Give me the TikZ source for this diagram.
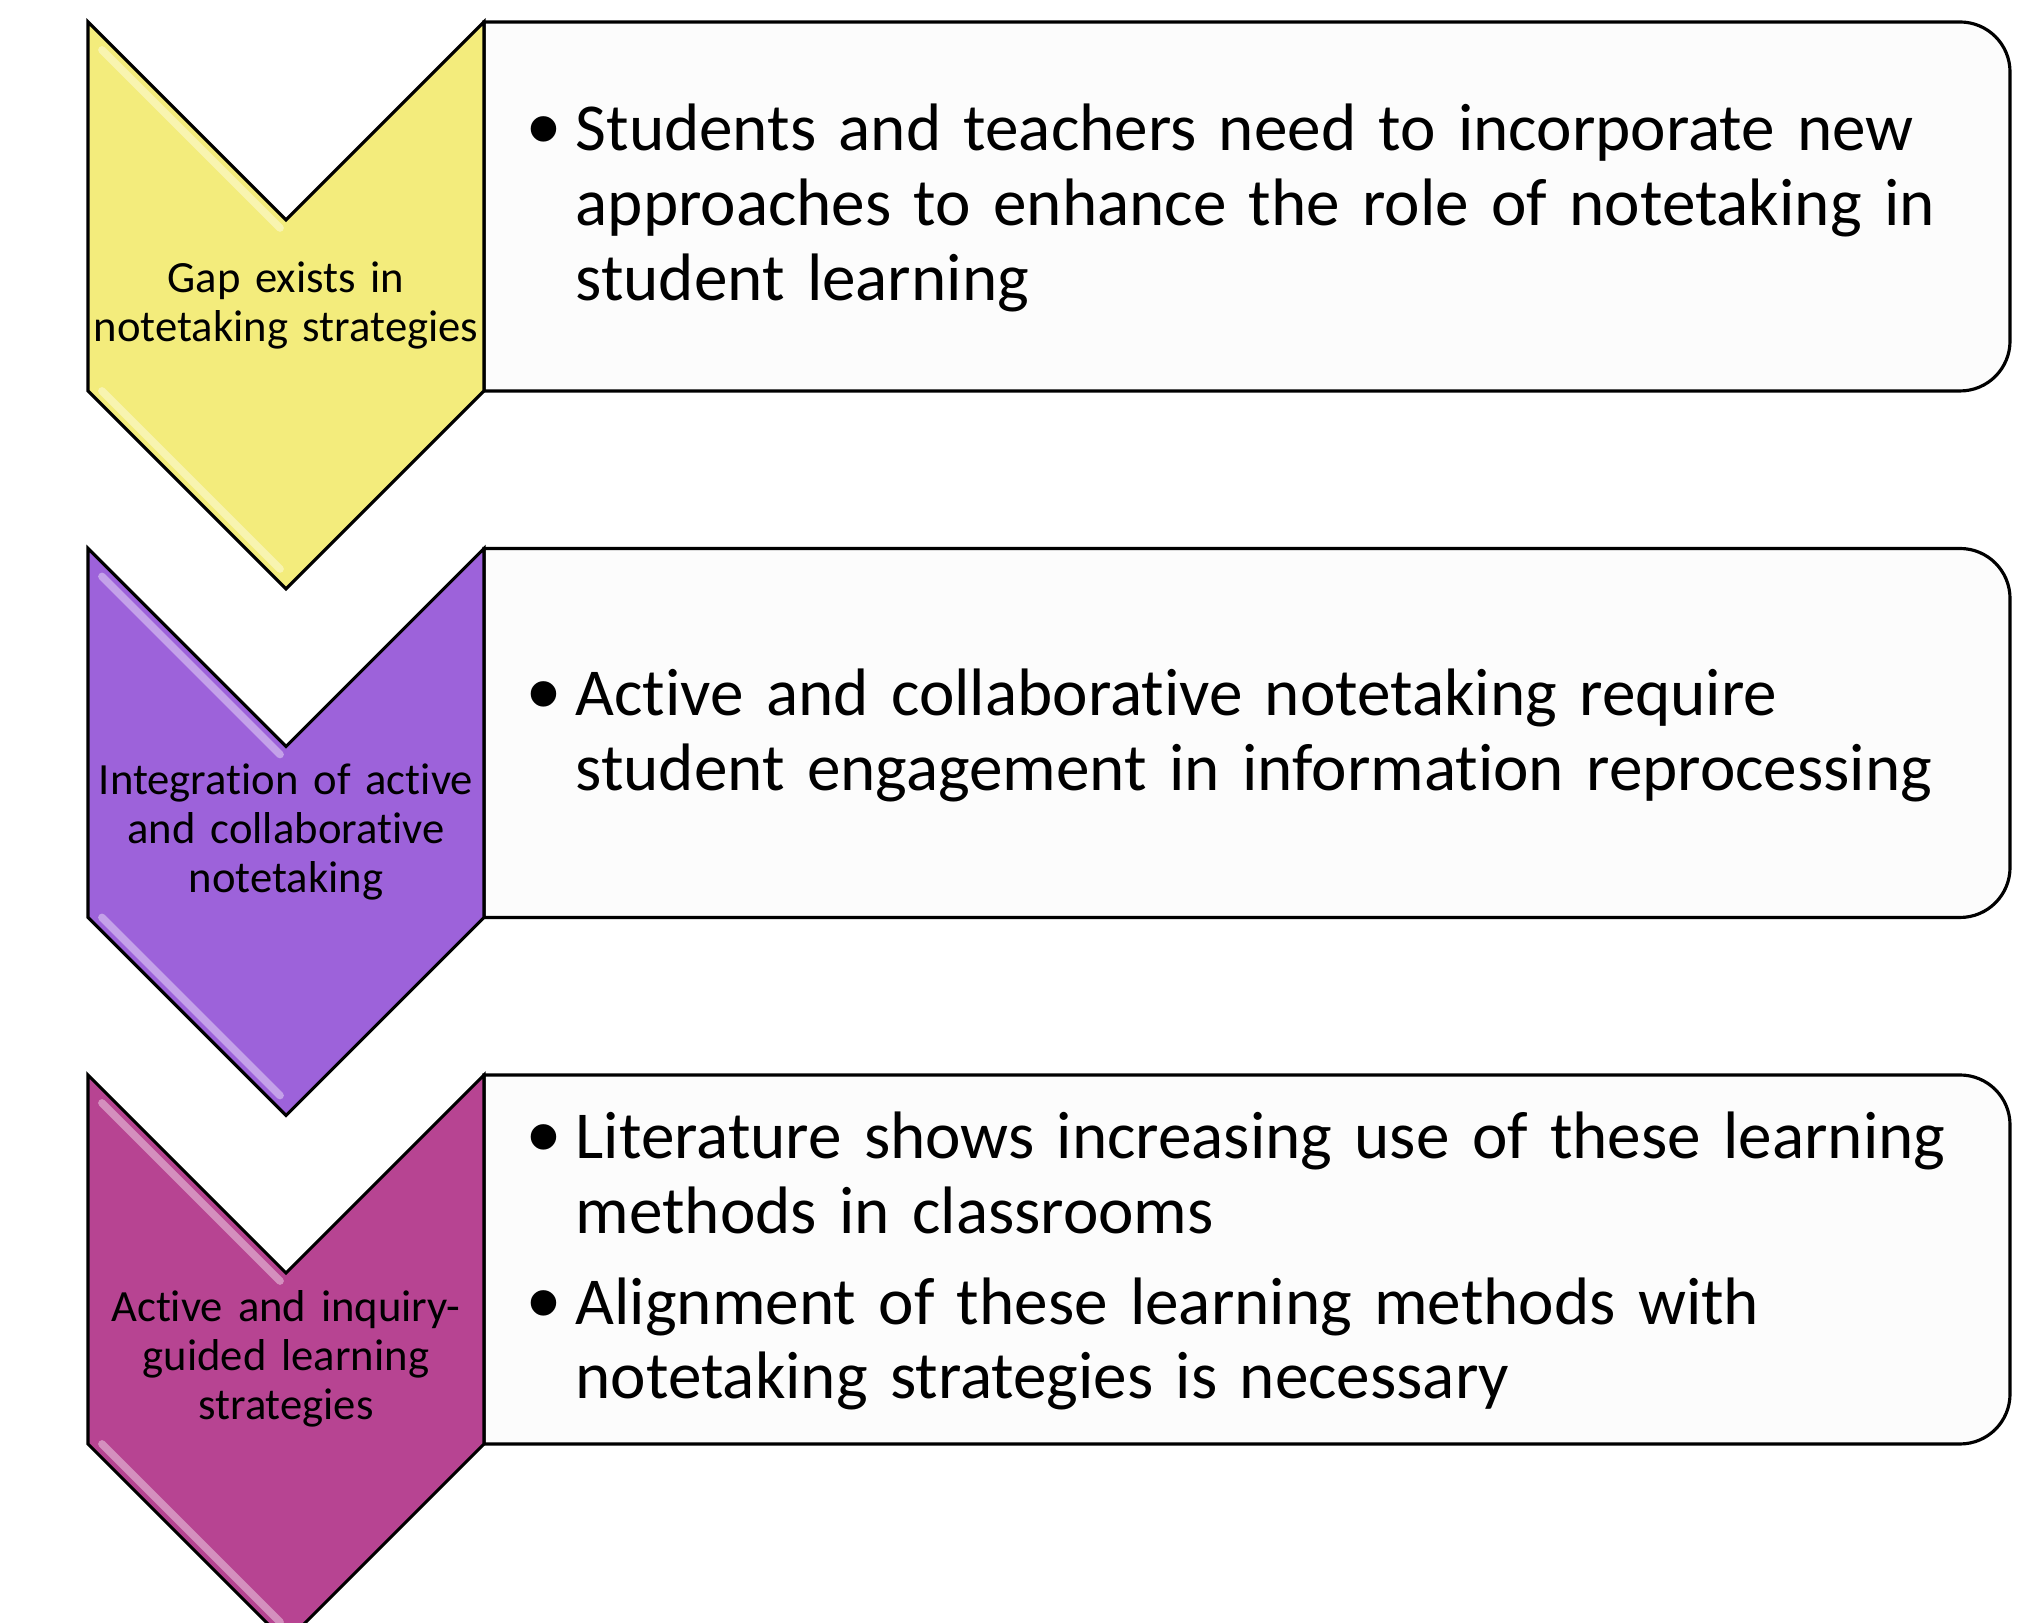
\documentclass[tikz,border=0pt]{standalone}
\usepackage{fontspec}
\setmainfont[Ligatures=NoCommon]{Carlito}
\newfontfamily\dotfont{Liberation Sans}
\usetikzlibrary{positioning}

\definecolor{gapyellow}{RGB}{243,236,124}
\definecolor{mixpurple}{RGB}{157,98,218}
\definecolor{inqmagenta}{RGB}{183,68,146}
\definecolor{panelgray}{RGB}{252,252,252}

\tikzset{
  chevron/.style={draw=black, line width=0.9pt, line join=miter},
  bevel/.style={line width=2.2pt, line cap=round},
  panel/.style={draw=black, fill=panelgray, line width=0.9pt},
  steplabel/.style={text width=3.96cm, align=center, inner sep=0pt, font=\fontsize{12.7}{13.9}\selectfont},
  notes/.style={anchor=west, text width=14.7cm, align=left, inner sep=0pt, font=\fontsize{19.1}{21.3}\selectfont},
}
\newcommand{\notept}[1]{\par\leftskip=0.44cm\noindent\llap{\makebox[0.44cm][l]{\hspace{-0.04cm}\raisebox{-0.15em}{\scalebox{1.4}{\dotfont\textbullet}}}}#1\par}

\begin{document}
\begin{tikzpicture}
\useasboundingbox (0,0) rectangle (20.30,16.23);
\clip (0,0) rectangle (20.30,16.23);

% text panels
\foreach \t in {16.01,10.745,5.48}
  \draw[panel] (4.84,\t) -- (19.60,\t) arc[start angle=90,end angle=0,radius=0.5]
    -- (20.10,\t-3.19) arc[start angle=0,end angle=-90,radius=0.5] -- (4.84,\t-3.69) -- cycle;

% chevrons
\foreach \t/\c in {16.01/gapyellow,10.745/mixpurple,5.48/inqmagenta} {
  \draw[chevron, fill=\c] (0.88,\t) -- (2.86,\t-1.98) -- (4.84,\t) -- (4.84,\t-3.69)
    -- (2.86,\t-5.67) -- (0.88,\t-3.69) -- cycle;
  \draw[bevel, \c!60!white] (1.02,\t-0.28) -- (2.80,\t-2.06);
  \draw[bevel, \c!60!white] (1.02,\t-3.69) -- (2.80,\t-5.47);
}

\node[steplabel] (gap) at (2.86,13.175) {Gap exists in\\notetaking strategies};
\node[steplabel] (integ) at (2.86,7.91) {Integration of active\\and collaborative\\notetaking};
\node[steplabel] (active) at (2.86,2.645) {Active and inquiry-\\guided learning\\strategies};

\node[notes] (gapnote) at (5.31,14.29) {\notept{Students and teachers need to incorporate new\\approaches to enhance the role of notetaking in\\student learning}};
\node[notes] (integnote) at (5.31,9.02) {\notept{Active and collaborative notetaking require\\student engagement in information reprocessing}};
\node[notes] (activenote) at (5.31,3.76) {\notept{Literature shows increasing use of these learning\\methods in classrooms}\vspace{0.16cm}\notept{Alignment of these learning methods with\\notetaking strategies is necessary}};
\end{tikzpicture}
\end{document}
